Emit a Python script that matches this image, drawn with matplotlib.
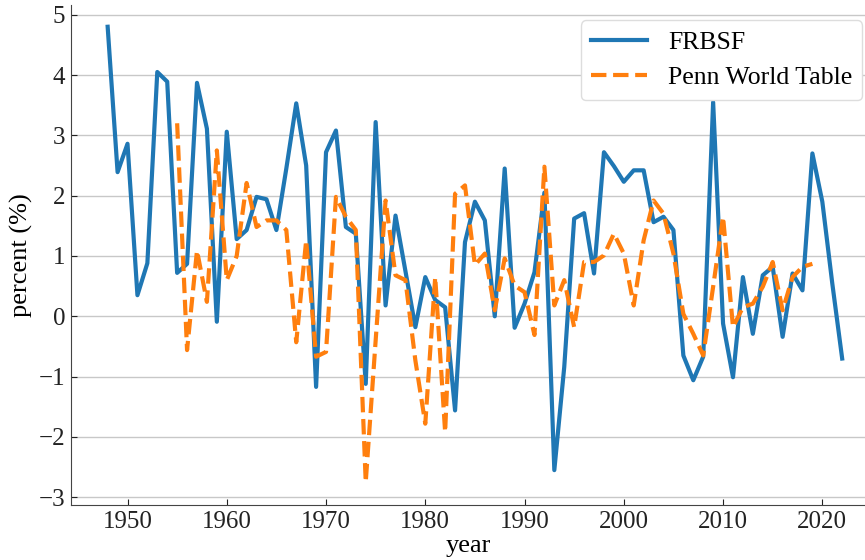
import matplotlib
matplotlib.use("Agg")
import matplotlib.pyplot as plt
import numpy as np

plt.rcParams['font.family'] = ['Liberation Serif', 'DejaVu Serif']
plt.rcParams['mathtext.fontset'] = 'stix'

frbsf_years = list(range(1948, 2023))
frbsf_values = [4.80, 2.39, 2.86, 0.35, 0.88, 4.05, 3.89, 0.72, 0.87, 3.87,
                3.11, -0.09, 3.06, 1.28, 1.43, 1.98, 1.94, 1.43, 2.45, 3.53,
                2.50, -1.17, 2.72, 3.08, 1.48, 1.37, -1.12, 3.22, 0.18, 1.67,
                0.75, -0.18, 0.65, 0.27, 0.15, -1.56, 1.23, 1.90, 1.59, 0.00,
                2.45, -0.19, 0.21, 0.73, 2.05, -2.55, -0.84, 1.62, 1.71, 0.71,
                2.72, 2.49, 2.23, 2.42, 2.42, 1.56, 1.65, 1.43, -0.65, -1.06,
                -0.67, 3.55, -0.12, -1.01, 0.65, -0.29, 0.68, 0.82, -0.34, 0.71,
                0.43, 2.70, 1.90, 0.55, -0.70]

pwt_years = list(range(1955, 2020))
pwt_values = [3.20, -0.56, 1.09, 0.24, 2.75, 0.60, 1.00, 2.21, 1.48, 1.59,
              1.59, 1.43, -0.43, 1.26, -0.67, -0.59, 1.98, 1.65, 1.43, -2.75,
              -0.40, 1.92, 0.68, 0.60, -0.73, -1.78, 0.65, -1.92, 2.03, 2.17,
              0.85, 1.04, 0.10, 0.96, 0.51, 0.40, -0.31, 2.48, 0.18, 0.60,
              -0.18, 0.90, 0.90, 1.01, 1.37, 1.04, 0.18, 1.26, 1.92, 1.70,
              1.04, 0.04, -0.29, -0.65, 0.49, 1.65, -0.18, 0.15, 0.21, 0.49,
              0.90, 0.10, 0.65, 0.82, 0.87]

fig = plt.figure(figsize=(8.65, 5.6), dpi=100)
ax = fig.add_axes([0.082, 0.098, 0.918, 0.893])

ax.plot(frbsf_years, frbsf_values, color='#1f77b4', lw=3, label='FRBSF')
ax.plot(pwt_years, pwt_values, color='#ff7f0e', lw=3, ls='--', label='Penn World Table')

ax.set_xlim(1944.3, 2024.3)
ax.set_ylim(-3.13, 5.16)
ax.set_yticks(range(-3, 6))
ax.set_xticks(range(1950, 2021, 10))
ax.yaxis.grid(True, color='#c8c8c8', lw=1)
ax.set_axisbelow(True)
ax.spines['top'].set_visible(False)
ax.spines['right'].set_visible(False)
for s in ('left', 'bottom'):
    ax.spines[s].set_color('#444444')
ax.tick_params(direction='in', labelsize=18, colors='#222222', length=4, pad=4)
ax.set_ylabel('percent (%)', fontsize=19, labelpad=4)
ax.set_xlabel('year', fontsize=19, labelpad=2)
ax.legend(loc='upper right', fontsize=18.5, bbox_to_anchor=(1.013, 0.995),
          handlelength=2.2, framealpha=1, edgecolor='#dddddd')

fig.savefig('out.png', dpi=100)
